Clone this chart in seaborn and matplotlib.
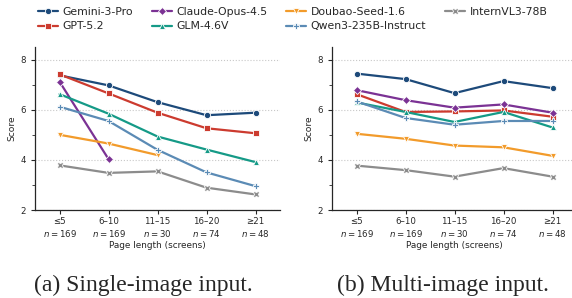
import numpy as np
import pandas as pd
import matplotlib
matplotlib.use("Agg")
import matplotlib.pyplot as plt
import seaborn as sns
from matplotlib.ticker import MultipleLocator

# données
bins = ["≤5", "6–10", "11–15", "16–20", "≥21"]
counts = [169, 169, 30, 74, 48]
models = ["Gemini-3-Pro", "GPT-5.2", "Claude-Opus-4.5", "GLM-4.6V",
          "Doubao-Seed-1.6", "Qwen3-235B-Instruct", "InternVL3-78B"]

single_gemini = [7.37, 6.97, 6.30, 5.78, 5.88]
single_gpt = [7.41, 6.65, 5.88, 5.26, 5.06]
single_claude = [7.12, 4.03, None, None, None]
single_glm = [6.62, 5.84, 4.93, 4.41, 3.91]
single_doubao = [5.00, 4.65, 4.19, None, None]
single_qwen = [6.12, 5.55, 4.40, 3.50, 2.95]
single_intern = [3.78, 3.48, 3.54, 2.89, 2.62]

multi_gemini = [7.44, 7.22, 6.66, 7.14, 6.86]
multi_gpt = [6.62, 5.91, 5.93, 5.97, 5.72]
multi_claude = [6.78, 6.38, 6.08, 6.21, 5.88]
multi_glm = [6.29, 5.91, 5.51, 5.91, 5.29]
multi_doubao = [5.04, 4.84, 4.57, 4.50, 4.16]
multi_qwen = [6.33, 5.67, 5.40, 5.55, 5.55]
multi_intern = [3.77, 3.59, 3.33, 3.67, 3.33]

single = [single_gemini, single_gpt, single_claude, single_glm,
          single_doubao, single_qwen, single_intern]
multi = [multi_gemini, multi_gpt, multi_claude, multi_glm,
         multi_doubao, multi_qwen, multi_intern]

colors = ["#1d4a7a", "#cc3b2f", "#7b3294", "#159a87",
          "#f29b2b", "#5b8bb5", "#8c8c8c"]
markers = ["o", "s", "D", "^", "v", "P", "X"]

sns.set_style("ticks")
plt.rcParams['font.family'] = ['DejaVu Sans']

fig = plt.figure(figsize=(5.72, 2.98), dpi=100)
ax1 = fig.add_axes([35 / 572, 1 - 210 / 298, 245 / 572, 163 / 298])
ax2 = fig.add_axes([332 / 572, 1 - 210 / 298, 245 / 572, 163 / 298])

xpos = np.arange(len(bins))
ticklabels = [f"{b}\n$n={c}$" for b, c in zip(bins, counts)]


def draw(ax, series):
    for name, vals, col, mk in zip(models, series, colors, markers):
        d = pd.DataFrame({"x": xpos, "y": vals}).dropna()
        ms = 4.5 if mk in ("o", "s", "D") else 5
        sns.lineplot(data=d, x="x", y="y", ax=ax, color=col, marker=mk,
                     markersize=ms, markeredgecolor="white", markeredgewidth=0.6,
                     linewidth=1.6, label=name, legend=False)
    ax.set_xlim(-0.5, 4.5)
    ax.set_ylim(2, 8.5)
    ax.set_yticks([2, 4, 6, 8])
    ax.yaxis.set_minor_locator(MultipleLocator(1))
    ax.set_xticks(xpos)
    ax.set_xticklabels(ticklabels, fontsize=6.2, linespacing=1.25)
    ax.tick_params(axis="y", labelsize=6.2, length=3, width=0.8)
    ax.tick_params(axis="y", which="minor", length=2, width=0.6)
    ax.tick_params(axis="x", length=3, width=0.8, pad=2)
    ax.set_xlabel("Page length (screens)", fontsize=6.4, labelpad=1)
    ax.set_ylabel("Score", fontsize=6.6, labelpad=3)
    ax.grid(axis="y", which="major", linestyle=":", color="#c8c8c8", linewidth=0.8)
    for s in ("top", "right"):
        ax.spines[s].set_visible(False)
    for s in ("left", "bottom"):
        ax.spines[s].set_linewidth(0.9)


draw(ax1, single)
draw(ax2, multi)

handles, labels = ax1.get_legend_handles_labels()
fig.legend(handles, labels, ncol=4, loc="upper left", bbox_to_anchor=(38 / 572, 1 - 7 / 298),
           frameon=False, fontsize=7.8, handlelength=1.85, handletextpad=0.4,
           columnspacing=1.75, labelspacing=0.4, borderaxespad=0, borderpad=0)

fig.text(143 / 572, 1 - 291 / 298, "(a) Single-image input.", ha="center", va="baseline",
         fontsize=17, family="Liberation Serif")
fig.text(443 / 572, 1 - 291 / 298, "(b) Multi-image input.", ha="center", va="baseline",
         fontsize=17, family="Liberation Serif")

fig.savefig("out.png", dpi=100)
